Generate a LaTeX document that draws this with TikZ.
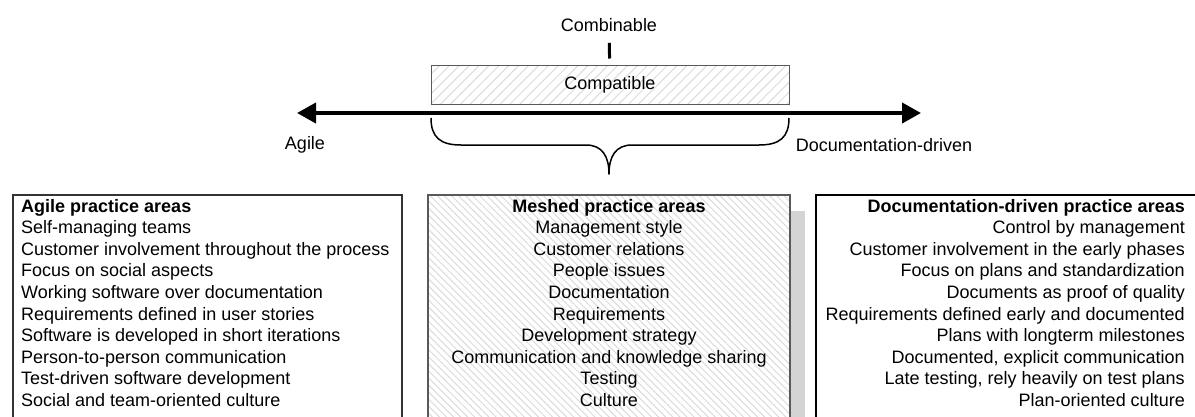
\documentclass[tikz,border=0pt]{standalone}
\usepackage{fontspec}
\setmainfont{Liberation Sans}
\usetikzlibrary{patterns.meta,arrows.meta}
\definecolor{shadowgray}{gray}{0.83}
\definecolor{hatchgray}{gray}{0.86}
\definecolor{framegray}{gray}{0.35}
\begin{document}
\begin{tikzpicture}[x=1pt,y=-1pt,
  txt/.style={font=\fontsize{18}{21.6}\selectfont, inner sep=0pt},
  hatchNE/.style={pattern={Lines[angle=45,distance=7pt,line width=1pt]}, pattern color=hatchgray},
  hatchNW/.style={pattern={Lines[angle=-45,distance=5pt,line width=1pt]}, pattern color=hatchgray},
  areaframe/.style={draw=black, line width=1.6pt},
  axisline/.style={line width=4pt, {Triangle[length=19pt,width=20pt]}-{Triangle[length=19pt,width=20pt]}},
  bracestyle/.style={line width=1.5pt, line join=round},
]
\useasboundingbox (0,0) rectangle (1195,416);
\clip (0,0) rectangle (1195,416);

% top scale: combinable / compatible
\node[txt] (comb) at (609,25) {Combinable};
\node[txt, draw=framegray, line width=0.8pt, hatchNE, minimum width=358pt, minimum height=39pt] (compat) at (610,84.5) {Compatible};
\draw[line width=3pt, shorten <=11pt, shorten >=6pt] (comb) -- (compat);

% axis between the two approaches
\coordinate (axL) at (297,113);
\coordinate (axR) at (921,113);
\draw[axisline] (axL) -- (axR);
\node[txt] (agile) at (305,145) {Agile};
\node[txt] (docdrv) at (884,145) {Documentation-driven};

% brace under the compatible range
\coordinate (braceTip) at (609,174);
\draw[bracestyle] (431,118) .. controls (431,137) and (440,145) .. (461,145) -- (586,145)
  .. controls (602,145) and (609,156) .. (braceTip)
  .. controls (609,156) and (616,145) .. (632,145) -- (759,145)
  .. controls (780,145) and (789,137) .. (789,118);

% practice area boxes
\draw[areaframe, draw=black!80] (13,195) rectangle (402,440);
\fill[shadowgray] (443,211) rectangle (805,440);
\path[fill=white] (428,195) rectangle (790,440);
\draw[hatchNW, draw=framegray, line width=1.8pt] (428,195) rectangle (790,440);
\draw[areaframe] (816,195) rectangle (1210,440);

% agile column
\node[txt, anchor=base west, font=\fontsize{18}{21.6}\selectfont\bfseries] (a0) at (21,212) {Agile practice areas};
\foreach \t [count=\i] in {Self-managing teams,
  Customer involvement throughout the process,
  Focus on social aspects,
  Working software over documentation,
  Requirements defined in user stories,
  Software is developed in short iterations,
  Person-to-person communication,
  Test-driven software development,
  Social and team-oriented culture}
  \node[txt, anchor=base west] (a\i) at (21,212+21.6*\i) {\t};

% meshed column
\node[txt, anchor=base, font=\fontsize{18}{21.6}\selectfont\bfseries] (m0) at (609,212) {Meshed practice areas};
\foreach \t [count=\i] in {Management style,
  Customer relations,
  People issues,
  Documentation,
  Requirements,
  Development strategy,
  Communication and knowledge sharing,
  Testing,
  Culture}
  \node[txt, anchor=base] (m\i) at (609,212+21.6*\i) {\t};

% documentation-driven column
\node[txt, anchor=base east, font=\fontsize{18}{21.6}\selectfont\bfseries] (d0) at (1185,212) {Documentation-driven practice areas};
\foreach \t [count=\i] in {Control by management,
  Customer involvement in the early phases,
  Focus on plans and standardization,
  Documents as proof of quality,
  Requirements defined early and documented,
  Plans with longterm milestones,
  {Documented, explicit communication},
  {Late testing, rely heavily on test plans},
  Plan-oriented culture}
  \node[txt, anchor=base east] (d\i) at (1185,212+21.6*\i) {\t};
\end{tikzpicture}
\end{document}
